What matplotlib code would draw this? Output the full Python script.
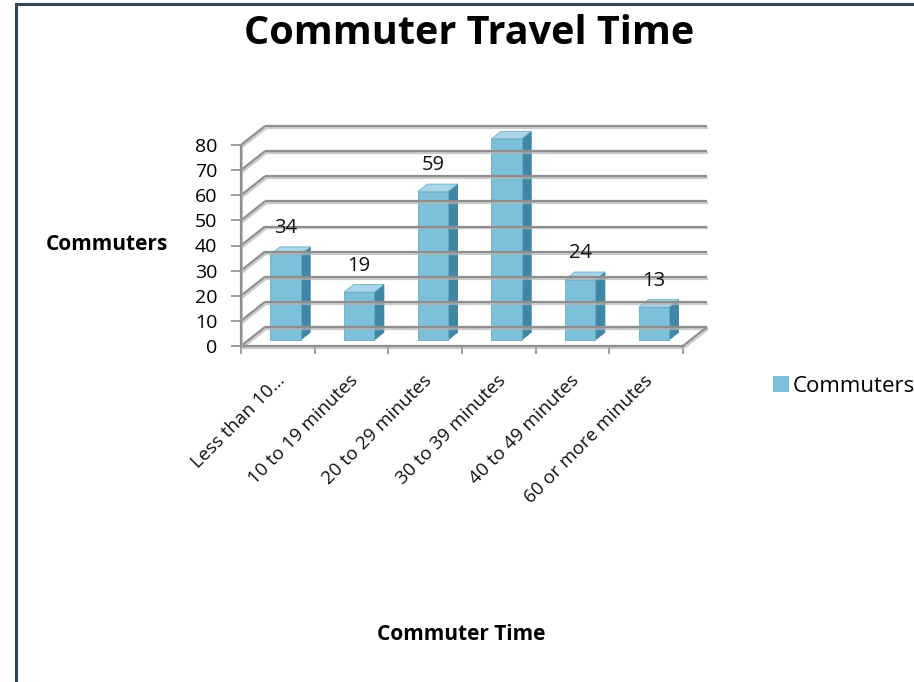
# -*- coding: utf-8 -*-
import matplotlib.pyplot as plt
import matplotlib.patheffects as pe
from matplotlib.patches import Polygon, Patch
from matplotlib.lines import Line2D

plt.rcParams['font.family'] = ['Open Sans', 'DejaVu Sans']

categories = ['Less than 10\u2026', '10 to 19 minutes', '20 to 29 minutes',
              '30 to 39 minutes', '40 to 49 minutes', '60 or more minutes']
commuters = [34, 19, 59, 80, 24, 13]
yticks = list(range(0, 90, 10))

W, H = 914, 682
fig = plt.figure(figsize=(W / 100, H / 100), dpi=100)

# front plane of the plot area, in pixels
x0, x1 = 241, 683
y0, y1 = 346, 145
ax = fig.add_axes([x0 / W, 1 - y0 / H, (x1 - x0) / W, (y0 - y1) / H])
n = len(categories)
ax.set_xlim(0, n)
ax.set_ylim(0, 80)
for s in ax.spines.values():
    s.set_visible(False)
ax.patch.set_visible(False)

# oblique depth offset (category units / value units)
px_x = n / (x1 - x0)
px_y = 80 / (y0 - y1)
dx, dy = 24 * px_x, 19 * px_y

grid_c = '#8e8e8e'
shadow = [pe.SimpleLineShadow(offset=(0.8, -1.4), shadow_color='#b5b5b5',
                              alpha=0.7), pe.Normal()]


def wall_line(xs, ys, lw=1.6):
    ln = Line2D(xs, ys, color=grid_c, lw=lw, clip_on=False,
                solid_capstyle='butt')
    ln.set_path_effects(shadow)
    ax.add_line(ln)


# side-wall diagonals and back-wall gridlines
for v in yticks:
    wall_line([0, dx], [v, v + dy])
    wall_line([dx, n + dx], [v + dy, v + dy])
# floor edges and front axes
wall_line([n, n + dx], [0, dy])
wall_line([0, n], [0, 0])
wall_line([0, 0], [0, 80])

# 3d columns
bw = 0.41
f0, f1 = 0.32, 0.72
front_c, side_c, top_c = '#7dc0da', '#3f87a6', '#a8d6e8'
for i, v in enumerate(commuters):
    xl = i + 0.5 - bw / 2 + f0 * dx
    xr = xl + bw
    yb = f0 * dy
    ddx, ddy = (f1 - f0) * dx, (f1 - f0) * dy
    ax.add_patch(Polygon([(xr, yb), (xr, v + yb), (xr + ddx, v + yb + ddy),
                          (xr + ddx, yb + ddy)], closed=True,
                         fc=side_c, ec='#3a7d99', lw=0.6, clip_on=False))
    ax.add_patch(Polygon([(xl, v + yb), (xr, v + yb), (xr + ddx, v + yb + ddy),
                          (xl + ddx, v + yb + ddy)], closed=True,
                         fc=top_c, ec='#6fb0ca', lw=0.6, clip_on=False))
    ax.add_patch(Polygon([(xl, yb), (xr, yb), (xr, v + yb), (xl, v + yb)],
                         closed=True, fc=front_c, ec='#69aac4', lw=0.6,
                         clip_on=False))
    ax.annotate(str(v), (i + 0.5 + f0 * dx, v + yb), xytext=(0, 19),
                textcoords='offset points', ha='center', va='center',
                fontsize=14.5, color='#111111')

# axis ticks
ax.set_yticks(yticks)
ax.set_yticklabels([str(t) for t in yticks], fontsize=14)
ax.set_xticks(range(n + 1))
ax.set_xticklabels([])
ax.tick_params(axis='y', length=7, width=1.2, color=grid_c, pad=10)
ax.tick_params(axis='x', length=6, width=1.2, color=grid_c, direction='out')

for i, lab in enumerate(categories):
    ax.text(i + 0.5 + 4 * px_x, -32 * px_y, lab, rotation=45,
            rotation_mode='anchor', ha='right', va='center', fontsize=13.5,
            color='#111111')

# titles
fig.text(469 / W, 1 - 33 / H, 'Commuter Travel Time', ha='center', va='center',
         fontsize=28.5, fontweight='bold')
fig.text(107 / W, 1 - 245 / H, 'Commuters', ha='center', va='center',
         fontsize=15, fontweight='bold')
fig.text(461 / W, 1 - 634 / H, 'Commuter Time', ha='center', va='center',
         fontsize=15, fontweight='bold')

# legend
fig.legend(handles=[Patch(fc=front_c, ec='none', label='Commuters')],
           loc='center left', bbox_to_anchor=(773 / W, 1 - 386 / H),
           frameon=False, fontsize=16, handlelength=0.7, handleheight=0.7,
           handletextpad=0.2, borderpad=0, borderaxespad=0)

# chart frame
fig.add_artist(Line2D([16 / W, 16 / W], [0, 1 - 4 / H], color='#34475a', lw=2.2))
fig.add_artist(Line2D([16 / W, 1], [1 - 4 / H, 1 - 4 / H], color='#34475a', lw=2.2))

fig.savefig('out.png', dpi=100)
